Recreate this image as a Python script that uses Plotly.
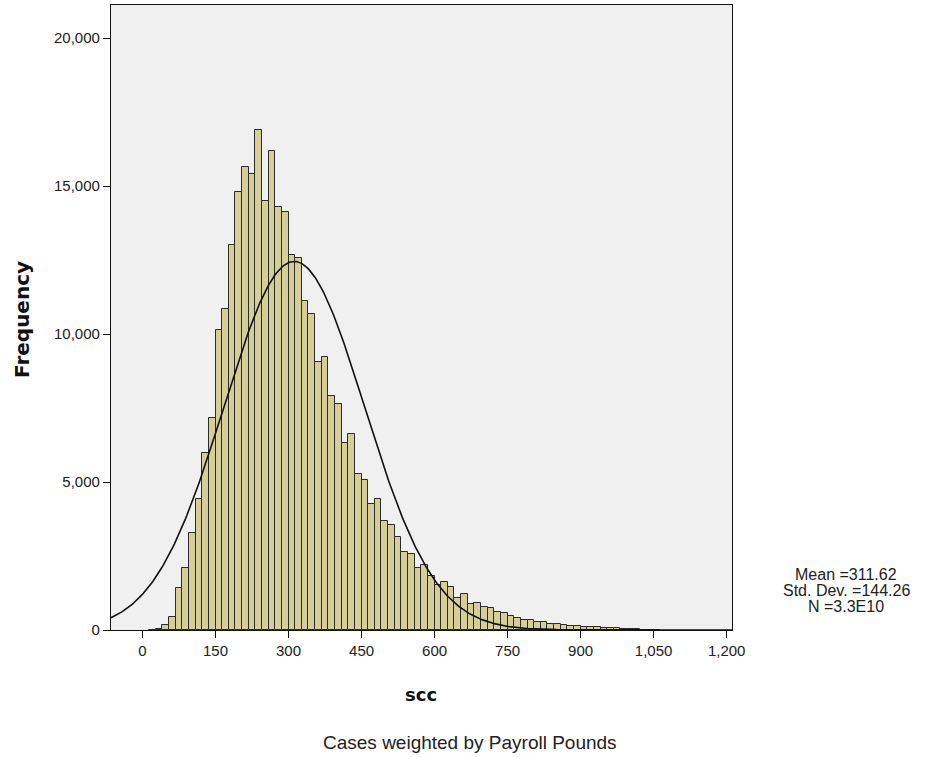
import numpy as np
import plotly.graph_objects as go

# Histogram of scc (weighted frequencies), bins of width 150/11 starting at 150/11
bin_width = 150 / 11
first_bin = 1
frequency = [
    10, 40, 170, 430, 1430, 2095, 3290, 4415, 5970, 7170,
    10135, 10835, 13006, 14808, 15630, 15395, 16890, 14504, 16182, 14280,
    14133, 12669, 12578, 11115, 10665, 9044, 9234, 7905, 7624, 6328,
    6622, 5260, 5068, 4246, 4436, 3693, 3536, 3131, 2635, 2568,
    2084, 2186, 1834, 1530, 1611, 1443, 1091, 1216, 868, 902,
    777, 733, 618, 585, 473, 395, 338, 338, 280, 280,
    192, 192, 170, 135, 135, 110, 100, 90, 70, 60,
    60, 40, 30, 20, 10, 10, 10,
]

mean_scc = 311.62
sd_scc = 144.26
stats_lines = ["Mean =311.62", "Std. Dev. =144.26", "N =3.3E10"]

x_ticks = [0, 150, 300, 450, 600, 750, 900, 1050, 1200]
y_ticks = [0, 5000, 10000, 15000, 20000]
x_range = [-64.7, 1211]
y_range = [0, 21115]

centers = [(first_bin + i + 0.5) * bin_width for i in range(len(frequency))]

# Normal curve scaled to the histogram's total frequency
total = sum(frequency)
xc = np.linspace(x_range[0], x_range[1], 500)
yc = total * bin_width / (sd_scc * np.sqrt(2 * np.pi)) * np.exp(-0.5 * ((xc - mean_scc) / sd_scc) ** 2)

fig = go.Figure()
fig.add_trace(go.Bar(
    x=centers, y=frequency, width=bin_width,
    marker=dict(color="#d5cf97", line=dict(color="#2b2b2b", width=1)),
    hoverinfo="skip",
))
fig.add_trace(go.Scatter(
    x=xc, y=yc, mode="lines",
    line=dict(color="#111111", width=1.6),
    hoverinfo="skip",
))

sans = "Liberation Sans, Arial, sans-serif"
bold = "DejaVu Sans, Verdana, sans-serif"
axis_font = dict(family=sans, size=15, color="#222222")

# plot area in pixels
L, R, T, B = 111, 732, 5, 630
W, H = R - L, B - T

fig.update_layout(
    width=940, height=757,
    margin=dict(l=L, r=940 - R, t=T, b=757 - B),
    paper_bgcolor="white",
    plot_bgcolor="#f0f0f0",
    showlegend=False,
    bargap=0,
    xaxis=dict(
        range=x_range, tickvals=x_ticks, tickformat=",d",
        ticks="outside", ticklen=7, tickwidth=1.2, tickcolor="#111",
        showline=True, linecolor="#111", linewidth=1.2, mirror=True,
        showgrid=False, zeroline=False, tickfont=axis_font,
    ),
    yaxis=dict(
        range=y_range, tickvals=y_ticks, tickformat=",d",
        ticks="outside", ticklen=7, tickwidth=1.2, tickcolor="#111",
        showline=True, linecolor="#111", linewidth=1.2, mirror=True,
        showgrid=False, zeroline=False, tickfont=axis_font,
    ),
)

def px_x(p):
    return (p - L) / W

def px_y(p):
    return (B - p) / H

fig.add_annotation(
    text="<b>Frequency</b>", xref="paper", yref="paper",
    x=px_x(22), y=px_y(320), xanchor="center", yanchor="middle",
    textangle=-90, showarrow=False,
    font=dict(family=bold, size=20, color="#111"),
)
fig.add_annotation(
    text="<b>scc</b>", xref="paper", yref="paper",
    x=px_x(421), y=px_y(694), xanchor="center", yanchor="middle",
    showarrow=False,
    font=dict(family=bold, size=18, color="#111"),
)
# summary statistics, one line each with tight spacing
for i, line in enumerate(stats_lines):
    fig.add_annotation(
        text=line, xref="paper", yref="paper",
        x=px_x(846), y=px_y(574 + 16 * i), xanchor="center", yanchor="middle",
        showarrow=False,
        font=dict(family=sans, size=16, color="#222"),
    )
fig.add_annotation(
    text="Cases weighted by Payroll Pounds", xref="paper", yref="paper",
    x=px_x(470), y=px_y(742), xanchor="center", yanchor="middle",
    showarrow=False,
    font=dict(family=sans, size=19, color="#222"),
)

fig.write_html("out.html")
